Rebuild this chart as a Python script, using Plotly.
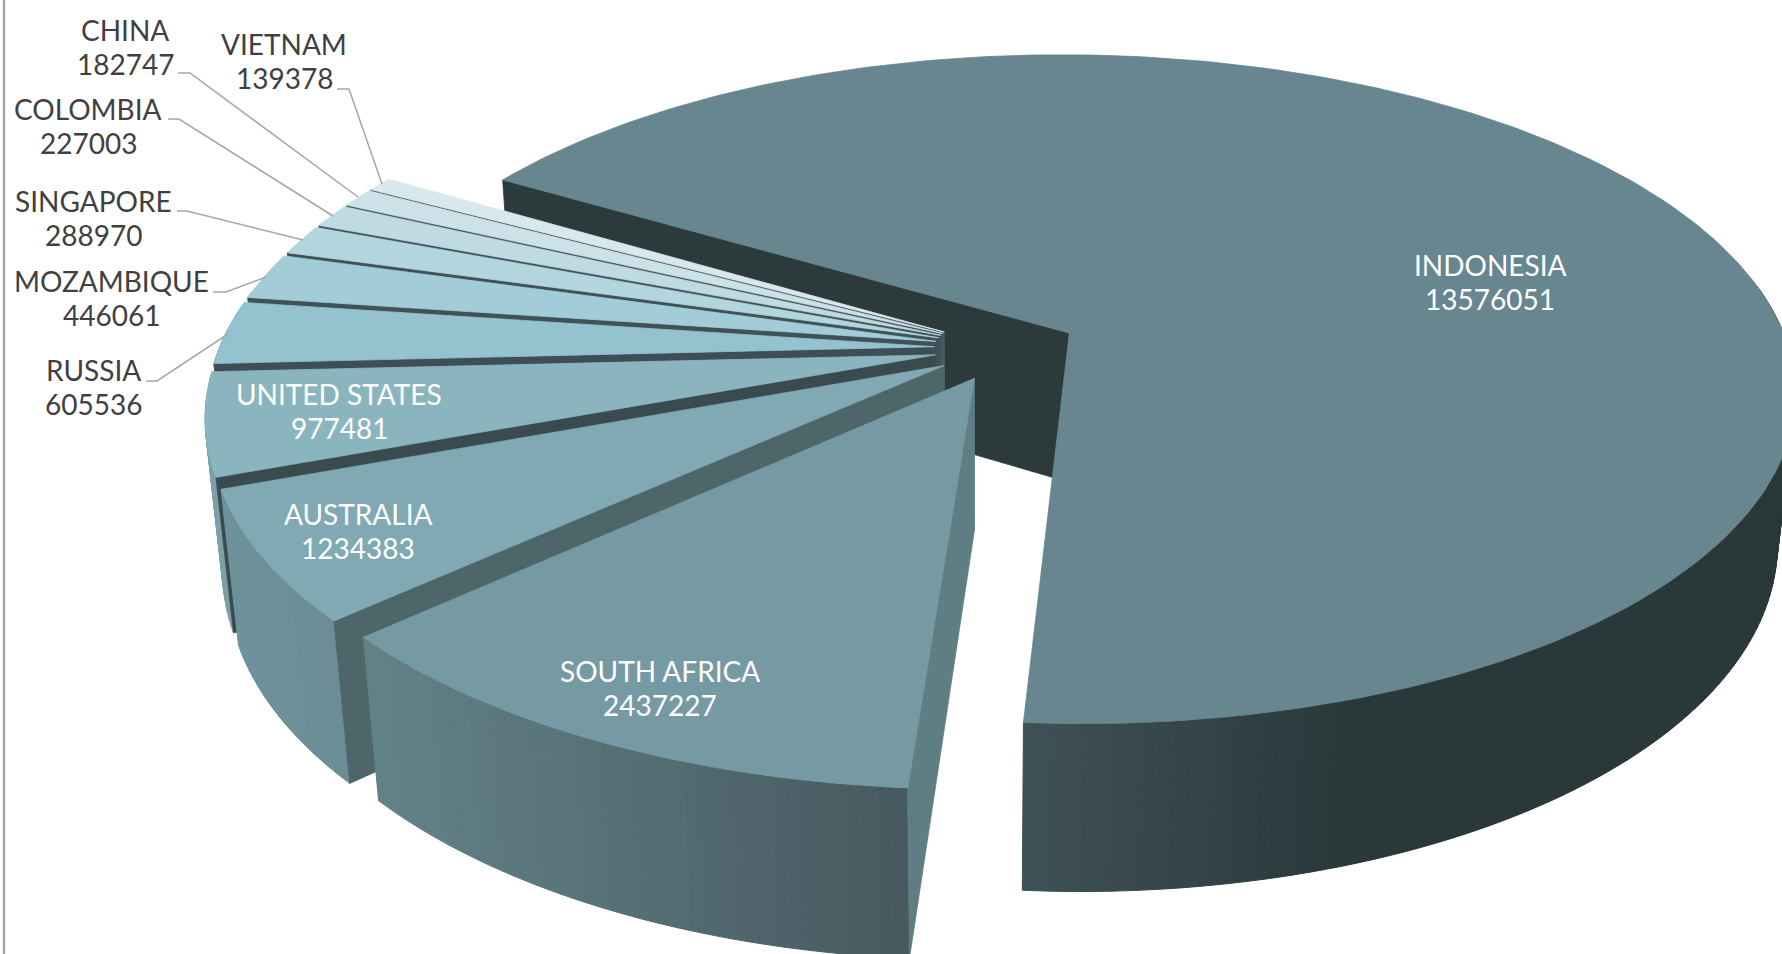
import math
import plotly.graph_objects as go

# ---- data ----
countries = ["INDONESIA", "SOUTH AFRICA", "AUSTRALIA", "UNITED STATES", "RUSSIA",
             "MOZAMBIQUE", "SINGAPORE", "COLOMBIA", "CHINA", "VIETNAM"]
values = [13576051, 2437227, 1234383, 977481, 605536, 446061, 288970, 227003, 182747, 139378]
top_colors = ["#67868F", "#769AA3", "#80A9B4", "#8BB5BE", "#95C2CF",
              "#A2CDD8", "#B3D5DE", "#BFDAE2", "#CDE2E8", "#D9E8ED"]
face_colors = ["#2C3A3C", "#5F7E84", "#4E656A", "#3A4B50", "#3D4F54",
               "#3F5257", "#3F5257", "#42545A", "#465A60", "#4A5D63"]
wall_left = ["#3F5257", "#628187", "#6E929B", "#7DA0A8", "#7DA0A8",
             "#8AB0B8", "#9ABFC8", "#A6C8D0", "#B2D0D8", "#BED8DF"]
wall_right = ["#2A3839", "#47595F", "#6B8C94", "#7DA0A8", "#7DA0A8",
              "#8AB0B8", "#9ABFC8", "#A6C8D0", "#B2D0D8", "#BED8DF"]
label_x = [1490, 660, 358, 339, 93, 111, 93, 88, 125, 284]
label_y = [282, 688, 531, 411, 387, 298, 218, 126, 47, 61]
label_colors = ["#FFFFFF"] * 4 + ["#404040"] * 6
leaders = {
    "RUSSIA": ([146, 157, 228], [381, 381, 334]),
    "MOZAMBIQUE": ([213, 226, 266], [292, 292, 277]),
    "SINGAPORE": ([177, 187, 303], [211, 211, 240]),
    "COLOMBIA": ([168, 179, 333], [119, 119, 216]),
    "CHINA": ([178, 190, 358], [73, 73, 197]),
    "VIETNAM": ([337, 349, 382], [89, 89, 184]),
}

# ---- view of the tilted pie ----
FIRST_ANGLE = 300.9
EXPLODE = 0.1
X0, Y0 = 1069.4, 333.0
M, K, C, S = 714.0, 325.0, 0.168, 10.0
E, A, B = 0.022, -2.0, 152.0
G = 0.0045
LINE_GAP = 17
GRAD_X = [(1022, 1350), (379, 908), (235, 350), (210, 240), (210, 240),
          (230, 260), (250, 290), (290, 320), (320, 350), (350, 380)]


def direction(deg):
    r = math.radians(deg)
    return math.sin(r), -math.cos(r)


def project(px, py, low=False):
    w = 1 - C * py - G * min(px, 0)
    if low:
        w += E
        return X0 + (px * M + S * py + A) / w, Y0 + (py * K + B) / w
    return X0 + (px * M + S * py) / w, Y0 + py * K / w


def mix(c1, c2, t):
    t = max(0.0, min(1.0, t))
    a = [int(c1[i:i + 2], 16) for i in (1, 3, 5)]
    b = [int(c2[i:i + 2], 16) for i in (1, 3, 5)]
    return "rgb(%d,%d,%d)" % tuple(round(p + (q - p) * t) for p, q in zip(a, b))


total = sum(values)
spans = [v / total * 360 for v in values]
starts = []
cursor = FIRST_ANGLE
for sp in spans:
    starts.append(cursor)
    cursor += sp

dx, dy = direction(starts[0] + spans[0] / 2)
centre = (-EXPLODE * dx, -EXPLODE * dy)

fig = go.Figure()


def poly(pts, color, width=0.8):
    xs = [p[0] for p in pts] + [pts[0][0]]
    ys = [p[1] for p in pts] + [pts[0][1]]
    fig.add_trace(go.Scatter(x=xs, y=ys, mode="lines", fill="toself", fillcolor=color,
                             line=dict(color=color, width=width), hoverinfo="skip",
                             showlegend=False))


def arc(i, a0, a1, steps):
    ax, ay = direction(starts[i] + spans[i] / 2)
    ox, oy = centre[0] + EXPLODE * ax, centre[1] + EXPLODE * ay
    out = []
    for n in range(steps + 1):
        ux, uy = direction(a0 + (a1 - a0) * n / steps)
        out.append((ox + ux, oy + uy, uy))
    return (ox, oy), out


# far slices first, nearest last
order = [0] + list(range(len(values) - 1, 0, -1))
for i in order:
    a0, a1 = starts[i], starts[i] + spans[i]
    apex, rim3 = arc(i, a0, a1, max(2, int(spans[i])))
    rim = [(p[0], p[1]) for p in rim3]
    # outer wall, strip by strip so the shade can run across it
    lo, hi = GRAD_X[i]
    for p, q, r3 in zip(rim[:-1], rim[1:], rim3[:-1]):
        if r3[2] < -0.15:
            continue
        t1, t2 = project(*p), project(*q)
        b1, b2 = project(*p, low=True), project(*q, low=True)
        shade = mix(wall_left[i], wall_right[i], ((t1[0] + t2[0]) / 2 - lo) / (hi - lo))
        poly([t1, t2, b2, b1], shade, 1.0)
    # visible cut face at the start angle
    poly([project(*apex), project(*rim[0]), project(*rim[0], low=True), project(*apex, low=True)],
         face_colors[i])
    # top face
    poly([project(*apex)] + [project(*p) for p in rim], top_colors[i])

for name, (lx, ly) in leaders.items():
    fig.add_trace(go.Scatter(x=lx, y=ly, mode="lines", line=dict(color="#A6A6A6", width=1.5),
                             hoverinfo="skip", showlegend=False))

for name, val, x, y, col in zip(countries, values, label_x, label_y, label_colors):
    for text, off in ((name, -LINE_GAP), (str(val), LINE_GAP)):
        fig.add_annotation(x=x, y=y + off, xref="x", yref="y", text=text, showarrow=False,
                           align="center", xanchor="center", yanchor="middle",
                           font=dict(family="Lato", size=28, color=col))

fig.add_shape(type="line", xref="x", yref="paper", x0=4, x1=4, y0=0, y1=1,
              line=dict(color="#A6A6A6", width=2.5))

fig.update_layout(
    width=1782, height=954, autosize=False,
    margin=dict(l=0, r=0, t=0, b=0),
    paper_bgcolor="white", plot_bgcolor="white",
    xaxis=dict(range=[0, 1782], visible=False, fixedrange=True),
    yaxis=dict(range=[954, 0], visible=False, fixedrange=True),
    showlegend=False,
)
fig.write_html("out.html", config={"displayModeBar": False},
               post_script="document.body.style.margin='0';document.documentElement.style.overflow='hidden';")
